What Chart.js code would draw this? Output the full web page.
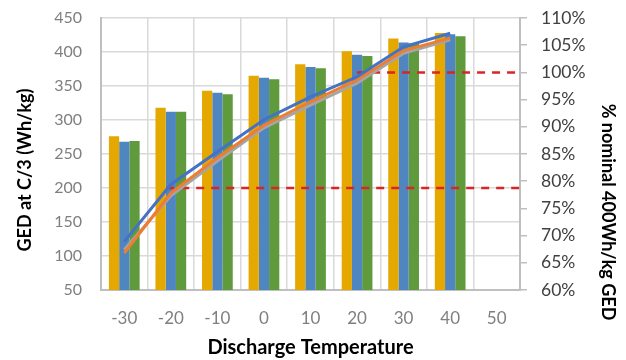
<!DOCTYPE html>
<html>
<head>
<meta charset="utf-8">
<script src="https://cdn.jsdelivr.net/npm/chart.js@4"></script>
<style>
  html, body { margin: 0; padding: 0; background: #fff; }
</style>
</head>
<body>
<canvas id="gedChart" width="626" height="360"></canvas>
<script>
// discharge temperature categories
const temps = ['-30', '-20', '-10', '0', '10', '20', '30', '40', '50'];

// GED at C/3 (Wh/kg), three cells
const gedGold  = [276, 318, 343, 365, 382, 401, 420, 428, null];
const gedBlue  = [268, 312, 340, 362, 378, 396, 414, 426, null];
const gedGreen = [269, 312, 338, 360, 376, 394, 413, 423, null];

// % of nominal 400 Wh/kg
const pctBlue   = [68.9, 79.4, 85.4, 91.3, 95.5, 99.2, 104.7, 107.2, null];
const pctOrange = [66.8, 77.8, 84.3, 90.3, 94.6, 98.6, 104.0, 106.3, null];
const pctGray   = [67.4, 77.3, 83.7, 89.8, 94.0, 98.0, 103.5, 106.0, null];

// dashed reference levels (% nominal) and where they start (deg C)
const refLevels = [100, 78.75];
const refStarts = [20, -21];
const refEnd = 55;

const xRange = [-35, 55];          // half a category either side
const leftTicks = [50, 450, 50];   // min, max, step
const rightTicks = [60, 110, 5];

const leftTitle = 'GED at C/3 (Wh/kg)';
const rightTitle = '% nominal 400Wh/kg GED';

const font = "Lato, 'Open Sans', sans-serif";
Chart.defaults.font.family = font;
Chart.defaults.font.size = 16;

function points(values) {
  const pts = [];
  values.forEach((v, i) => { if (v !== null) pts.push({ x: Number(temps[i]), y: v }); });
  return pts;
}

function lineSet(label, values, color, order) {
  return {
    type: 'line', label, data: points(values), order,
    xAxisID: 'x', yAxisID: 'y1',
    borderColor: color, borderWidth: 3,
    pointRadius: 0, tension: 0, fill: false
  };
}

function refSet(i) {
  return {
    type: 'line', label: 'ref' + i, order: 3,
    data: [{ x: refStarts[i], y: refLevels[i] }, { x: refEnd, y: refLevels[i] }],
    xAxisID: 'x', yAxisID: 'y1',
    borderColor: '#D92525', borderWidth: 2.5, borderDash: [8, 7],
    pointRadius: 0, fill: false
  };
}

function barSet(label, values, color) {
  return {
    type: 'bar', label, data: points(values), order: 4,
    xAxisID: 'x', yAxisID: 'y',
    backgroundColor: color, borderWidth: 0,
    categoryPercentage: 0.66, barPercentage: 1.0
  };
}

// rotated side titles, placed like the original
const sideTitles = {
  id: 'sideTitles',
  afterDraw(chart) {
    const c = chart.ctx;
    c.save();
    c.fillStyle = '#000';
    c.textAlign = 'center';
    c.textBaseline = 'middle';
    c.font = 'bold 18px ' + font;
    c.translate(25, 170);
    c.rotate(-Math.PI / 2);
    c.fillText(leftTitle, 0, 0);
    c.restore();
    c.save();
    c.fillStyle = '#000';
    c.textAlign = 'center';
    c.textBaseline = 'middle';
    c.font = 'bold 18px ' + font;
    c.translate(608, 212);
    c.rotate(Math.PI / 2);
    c.fillText(rightTitle, 0, 0);
    c.restore();
  }
};

// keep the plot top where the original has it
const noPad = s => { s.paddingTop = 0; s.paddingBottom = 0; };

const ctx = document.getElementById('gedChart').getContext('2d');
const gedChart = new Chart(ctx, {
  type: 'line',
  data: {
    datasets: [
      barSet('gold', gedGold, '#E5A800'),
      barSet('steel', gedBlue, '#4F86C0'),
      barSet('green', gedGreen, '#5F9A3C'),
      lineSet('blue', pctBlue, '#4472C4', 0),
      lineSet('orange', pctOrange, '#ED7D31', 1),
      lineSet('gray', pctGray, '#A5A5A5', 2),
      refSet(0),
      refSet(1)
    ]
  },
  options: {
    responsive: false,
    animation: false,
    layout: { padding: { top: 18, left: 0, right: 0, bottom: 0 } },
    plugins: {
      legend: { display: false },
      tooltip: { enabled: false }
    },
    scales: {
      x: {
        type: 'linear', position: 'bottom', offset: false,
        min: xRange[0], max: xRange[1],
        afterBuildTicks: s => { s.ticks = temps.map(t => ({ value: Number(t) })); },
        grid: { drawOnChartArea: false, drawTicks: false },
        border: { color: '#BFBFBF', width: 2 },
        ticks: { color: '#7F7F7F', padding: 18, maxRotation: 0, autoSkip: false, font: { size: 17 } },
        title: {
          display: true, text: 'Discharge Temperature', color: '#000',
          font: { size: 20, weight: 'bold' }, padding: { top: 0, bottom: 0 }
        },
        afterFit: s => { s.height = 70; }
      },
      // category boundaries for the vertical grid
      xg: {
        type: 'linear', position: 'bottom', offset: false,
        min: xRange[0], max: xRange[1],
        ticks: { display: false, stepSize: 10 },
        grid: { color: '#D9D9D9', lineWidth: 1.5, drawTicks: false },
        border: { display: false },
        afterFit: s => { s.height = 0; }
      },
      y: {
        position: 'left',
        min: leftTicks[0], max: leftTicks[1],
        ticks: { stepSize: leftTicks[2], color: '#7F7F7F', padding: 19 },
        grid: { color: '#D9D9D9', lineWidth: 1.5, drawTicks: false },
        border: { color: '#BFBFBF', width: 2 },
        afterFit: s => { s.width = 101; noPad(s); }
      },
      y1: {
        position: 'right',
        min: rightTicks[0], max: rightTicks[1],
        ticks: { stepSize: rightTicks[2], color: '#404040', padding: 14, font: { size: 17.5 }, callback: v => v + '%' },
        grid: { drawOnChartArea: false, drawTicks: true, tickLength: 7, color: '#BFBFBF', lineWidth: 1.5 },
        border: { color: '#BFBFBF', width: 2 },
        afterFit: s => { s.width = 106; noPad(s); }
      }
    }
  },
  plugins: [sideTitles]
});
</script>
</body>
</html>
